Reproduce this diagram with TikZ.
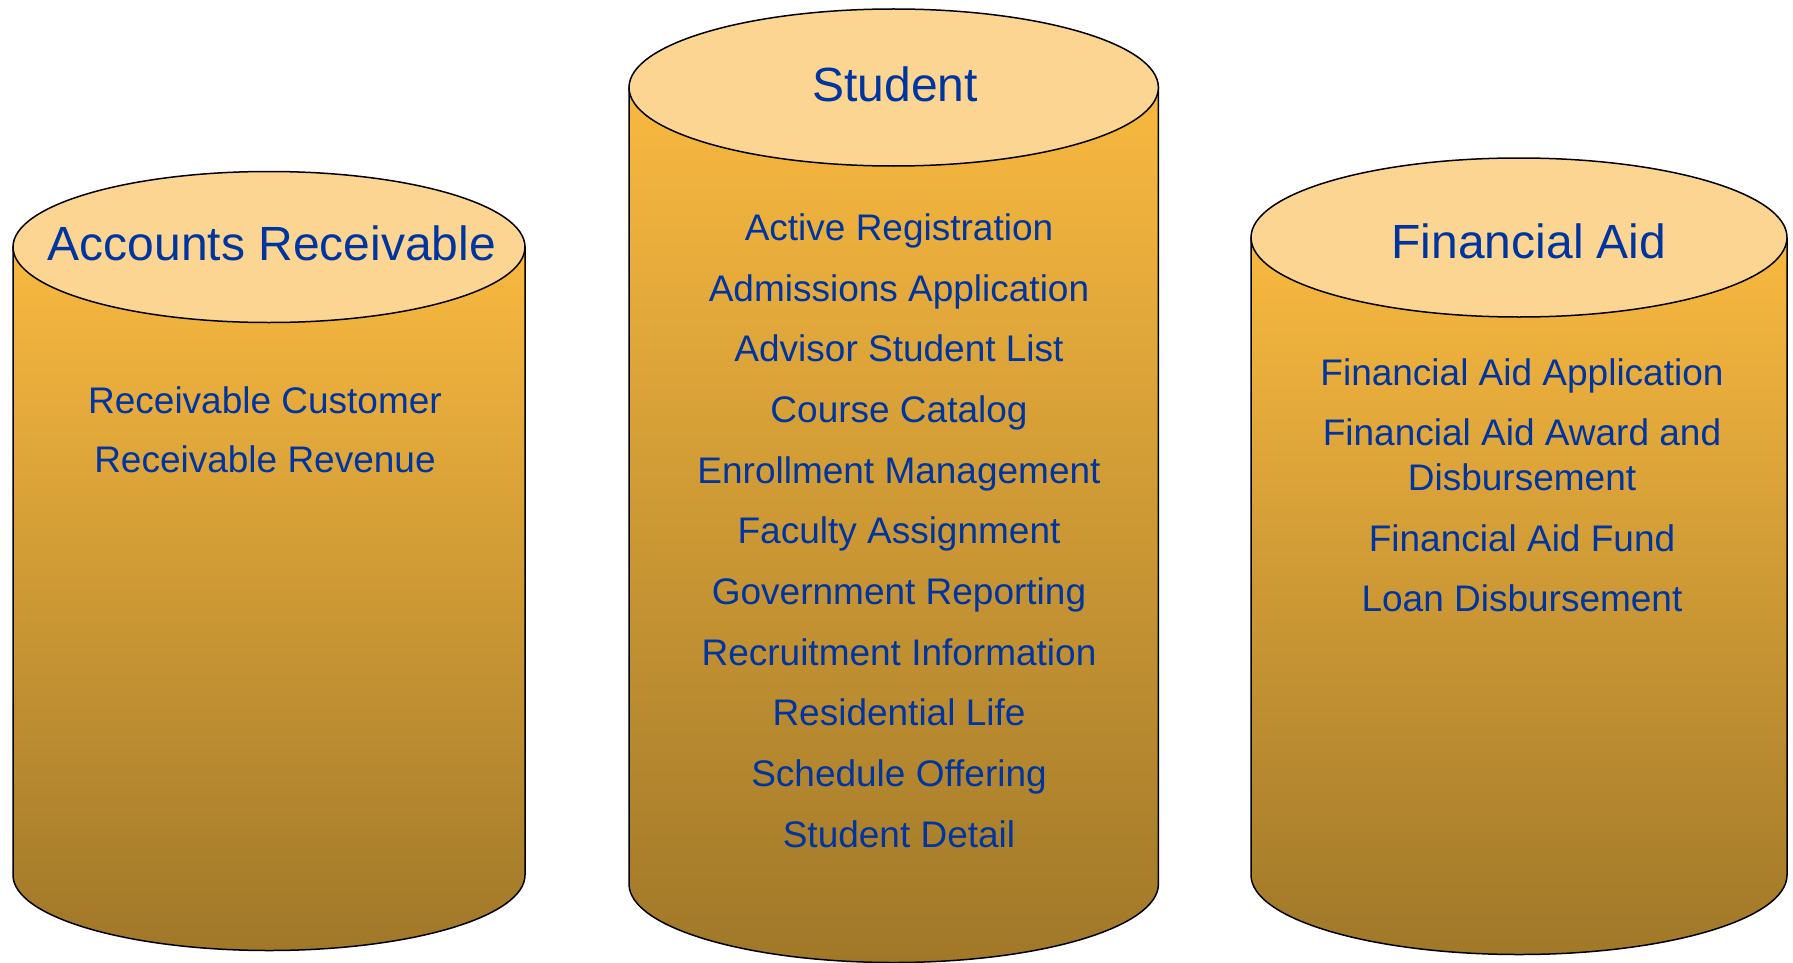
\documentclass[tikz,border=0pt]{standalone}
\usepackage{fontspec}
\setmainfont{Liberation Sans}
\definecolor{lidcol}{HTML}{FCD592}
\definecolor{drumtop}{HTML}{F9B940}
\definecolor{drumbot}{HTML}{A07829}
\definecolor{ink}{HTML}{0035A0}
\tikzset{
  body/.style={draw=black, line width=1.5pt, top color=drumtop, bottom color=drumbot},
  lid/.style={draw=black, line width=1.5pt, fill=lidcol},
  title/.style={text=ink, font=\fontsize{48}{52}\selectfont, inner sep=0pt, text height=.72em, text depth=0pt},
  entry/.style={text=ink, font=\fontsize{37}{44.6}\selectfont, inner sep=0pt, align=center},
  item/.style={entry, text height=.72em, text depth=0pt}
}
\begin{document}
\begin{tikzpicture}[x=1pt,y=-1pt]
        \useasboundingbox (0,0) rectangle (1793,963);
        % Accounts Receivable
        \draw[body] (13,247) -- (13,875) arc[start angle=180, end angle=0, x radius=256, y radius=75.5] -- (525,247) -- cycle;
        \draw[lid] (269,247) ellipse[x radius=256, y radius=75.5];
        \node[title] (ar) at (272,256.6) {Accounts Receivable};
        \node[item] (ar1) at (265,409.5) {Receivable Customer};
        \node[item] (ar2) at (265,469) {Receivable Revenue};
        % Student
        \draw[body] (629,87.5) -- (629,884) arc[start angle=180, end angle=0, x radius=264.7, y radius=78.5] -- (1158.4,87.5) -- cycle;
        \draw[lid] (893.7,87.5) ellipse[x radius=264.7, y radius=78.5];
        \node[title] (st) at (895,97.6) {Student};
        \foreach \txt [count=\i] in {Active Registration, Admissions Application, Advisor Student List,
          Course Catalog, Enrollment Management, Faculty Assignment, Government Reporting,
          Recruitment Information, Residential Life, Schedule Offering, Student Detail}
          \node[item] (st\i) at (899,{236.7+60.7*(\i-1)}) {\txt};
        % Financial Aid
        \draw[body] (1251,237.5) -- (1251,875) arc[start angle=180, end angle=0, x radius=268, y radius=79.5] -- (1787,237.5) -- cycle;
        \draw[lid] (1519,237.5) ellipse[x radius=268, y radius=79.5];
        \node[title] (fa) at (1529,254.5) {Financial Aid};
        \node[item] (fa1) at (1522,381.9) {Financial Aid Application};
        \node[entry] (fa2) at (1522,454.5) {Financial Aid Award and\\Disbursement};
        \node[item] (fa3) at (1522,547.7) {Financial Aid Fund};
        \node[item] (fa4) at (1522,608.3) {Loan Disbursement};
    \end{tikzpicture}
\end{document}
